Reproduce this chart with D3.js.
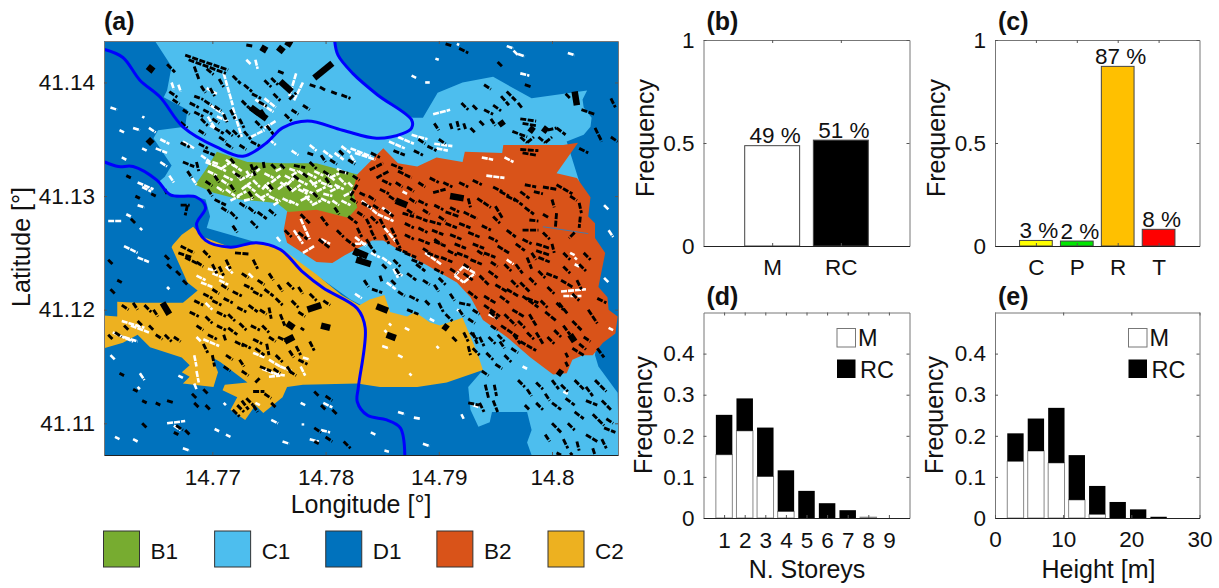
<!DOCTYPE html>
<html>
<head>
<meta charset="utf-8">
<script src="https://cdn.jsdelivr.net/npm/d3@7"></script>
<style>
    body { margin: 0; background: #fff; }
    svg { display: block; }
    text { font-family: "Liberation Sans", Arial, sans-serif; fill: #111; }
</style>
</head>
<body>
<svg id="chart" width="1219" height="588"></svg>
<script>

// Map data: pairs are offsets from 14.76 E / 41.10 N, in units of 0.0001 degree
const lonBase = 14.76, latBase = 41.10;

const zoneB2 = [[228,319],[251,342],[264,329],[281,326],[298,334],[321,330],[323,339],[356,338],[357,345],[391,345],[410,345],[423,347],[404,320],[422,316],[434,299],[432,282],[438,276],[438,263],[447,250],[444,235],[441,220],[449,211],[450,200],[458,194],[456,179],[445,171],[436,160],[427,160],[418,156],[413,144],[401,143],[381,158],[360,176],[339,191],[328,211],[316,224],[290,239],[273,248],[251,261],[241,261],[238,259],[217,248],[206,241],[192,242],[166,259],[163,270],[166,286],[177,305]];
const zoneC1 = [[49,437],[208,437],[211,424],[224,408],[246,389],[268,374],[277,369],[286,369],[299,391],[321,400],[348,405],[382,386],[431,393],[427,385],[428,378],[435,369],[434,361],[428,354],[413,348],[429,297],[442,209],[438,160],[441,150],[458,127],[459,72],[382,72],[378,83],[382,94],[378,110],[347,110],[345,101],[335,97],[328,112],[326,132],[339,147],[222,209],[160,253],[95,272],[98,282],[94,297],[80,301],[63,301],[52,312],[58,317],[64,327],[48,351],[52,358],[76,361],[78,376],[57,387],[60,393],[64,414]];
const zoneB1 = [[104,339],[131,330],[162,329],[192,329],[228,319],[224,305],[228,290],[220,281],[192,288],[167,286],[157,294],[124,297],[101,303],[85,310],[94,323]];
const zoneC2 = [[65,257],[73,266],[83,273],[92,264],[116,255],[139,259],[162,253],[192,231],[214,213],[230,204],[239,209],[252,213],[257,198],[272,194],[279,198],[292,189],[301,186],[321,193],[334,162],[339,147],[307,136],[281,132],[248,132],[228,135],[180,134],[166,132],[162,123],[145,109],[138,116],[129,103],[116,112],[122,123],[109,129],[111,134],[131,136],[107,154],[100,158],[105,145],[101,132],[74,135],[80,141],[73,145],[80,151],[73,158],[45,167],[34,178],[21,171],[4,166],[4,195],[16,194],[16,207],[33,206],[58,206],[74,206],[87,217],[78,224],[64,255]];

const riverNorth = [[5,429],[21,422],[36,402],[54,387],[74,361],[104,343],[127,335],[148,347],[162,360],[184,366],[215,358],[245,351],[268,355],[276,360],[276,367],[246,389],[224,408],[211,424],[208,437]];
const riverSouth = [[5,330],[17,326],[30,326],[51,314],[63,301],[86,299],[94,290],[86,275],[94,261],[116,255],[139,259],[160,253],[180,233],[198,219],[228,201],[235,184],[229,132],[228,119],[237,107],[254,103],[266,96],[270,72]];
const road = [[392,273],[432,267]];

// Large buildings, [lon1, lat1, lon2, lat2]
const largeBuildings = [[190,404,206,417],[43,414,48,410],[143,431,148,428],[158,431,163,427],[165,436,170,433],[134,378,148,368],[160,401,170,392],[262,296,272,292],[310,300,322,298],[354,366,357,362],[380,360,384,357],[392,360,396,357],[420,392,422,380],[225,252,237,247],[227,244,240,240],[56,206,62,196],[184,200,196,204],[196,186,204,184],[166,188,172,184],[164,172,172,176],[254,178,262,175],[245,203,255,199],[304,186,308,183],[416,178,420,172],[405,146,409,143],[43,350,47,346]];

// Small black buildings
const blackBuildings = [
    [76,424,114,411],[79,420,112,408],[60,416,67,409],[84,414,88,403],[62,392,69,387],[65,385,71,381],[95,412,101,407],[106,403,110,396],[118,406,125,399],[128,398,135,392],[135,390,143,386],[141,383,148,379],
    [90,397,94,391],[98,395,102,388],[84,388,92,385],[80,382,88,378],[84,374,92,370],[93,384,99,380],[92,376,100,372],[102,379,108,375],[100,368,106,364],[74,376,80,372],[110,372,113,365],[116,376,120,368],[112,358,118,353],[102,360,110,355],[124,368,128,360],[132,378,140,372],[128,357,134,350],[134,348,142,344],[124,345,130,341],[138,366,144,360],[148,362,155,353],[143,376,147,370],
    [146,402,152,396],[152,404,158,398],[90,368,96,362],[118,358,124,352],[106,352,112,348],[112,346,118,342],[88,358,94,354],[72,365,78,360],[126,384,132,378],[154,390,160,384],[170,376,176,372],[180,380,186,376],[164,372,170,366],
    [168,385,174,391],[186,398,192,396],[195,396,200,393],[205,392,210,390],[214,389,222,386],[130,433,136,432],[158,410,163,408],[172,327,182,325],[186,330,192,324],[196,336,200,330],[204,332,210,328],[184,338,190,336],[212,340,216,336],[220,332,226,328],[224,318,230,314],[198,322,204,318],[212,322,220,320],
    [72,347,80,343],[88,346,96,342],[92,340,102,336],[74,330,84,326],[78,322,82,316],[86,330,88,322],[102,297,112,292],[108,290,114,286],[116,286,122,280],[124,294,130,290],[132,290,138,285],[140,286,148,280],[150,288,156,283],[118,274,122,268],[134,278,140,272],[96,306,100,300],[72,292,80,292],[78,292,76,283],
    [116,333,120,328],[134,328,138,318],[140,326,134,322],[145,330,146,324],[152,328,156,324],[160,328,164,324],[180,320,185,316],[166,309,170,304],[150,310,154,305],[189,303,194,298],[200,316,204,310],[102,318,106,312],[94,313,100,309],[132,304,136,298],[116,310,120,304],[172,318,177,314],[120,320,126,316],
    [239,323,251,329],[245,316,256,322],[222,300,228,310],[250,314,258,310],[248,306,256,302],[256,300,262,296],[264,322,276,316],[230,303,236,300],[238,300,244,296],[232,294,240,290],[242,292,248,288],[222,298,228,294],[295,303,306,306],[326,298,328,290],[334,298,346,290],[350,291,356,281],
    [348,308,356,304],[354,304,362,300],[360,300,368,296],[366,298,374,292],[372,304,380,298],[376,310,386,308],[384,304,392,302],[392,308,404,306],[404,310,418,302],[416,300,422,296],[424,294,426,285],[425,282,424,272],[420,268,415,263],[400,297,402,290],[404,285,403,272],[392,284,397,281],[376,290,384,284],[380,279,388,278],[374,270,388,270],
    [268,285,278,282],[280,282,290,278],[292,278,302,275],[270,276,278,272],[282,272,290,268],[294,270,304,266],[270,266,278,262],[282,262,292,258],[296,260,306,256],[306,276,316,272],[310,266,320,262],[314,258,324,254],[318,276,328,272],[326,268,336,264],[330,258,340,254],[338,274,346,270],[344,264,352,260],[348,282,354,276],[306,286,318,282],[322,286,334,280],[252,288,260,282],[262,254,272,250],[258,272,262,264],[262,262,266,254],[248,280,252,272],[252,266,256,258],[270,250,280,246],[240,270,244,262],[276,244,286,240],[290,250,300,246],[302,246,312,242],[316,250,326,246],[328,244,338,240],[340,250,350,246],[352,256,362,250],[360,270,368,264],[368,258,376,252],
    [262,312,268,308],[272,308,278,304],[282,312,288,308],[292,316,300,312],[304,312,312,308],[318,312,326,308],[330,314,338,310],[282,296,290,292],[296,292,304,288],[310,290,318,286],[274,298,280,294],[240,282,246,276],[228,286,234,282],[236,262,240,256],[260,244,266,238],[286,254,292,250],[300,282,306,278],[272,288,278,284],[286,288,292,284],[296,262,302,258],[308,252,316,248],[322,240,328,236],[334,252,340,248],[346,242,352,238],[358,240,364,234],[354,212,362,206],[364,226,370,220],[380,228,386,222],[388,234,394,228],[396,220,402,214],[382,250,386,244],[374,262,382,258],[392,268,398,262],[410,250,416,244],[428,250,434,244],[410,238,416,232],[424,240,430,234],[404,206,410,200],[396,176,402,170],[402,182,408,176],[378,180,384,174],[364,166,370,162],[370,190,376,184],[390,208,396,202],[352,178,358,172],[346,186,352,182],[330,200,336,196],[310,236,316,232],[300,228,306,222],[296,236,304,232],
    [386,258,398,254],[386,252,398,248],[388,246,398,242],[400,258,402,250],[378,246,382,236],[368,240,374,232],[344,234,352,228],[336,230,344,222],[322,232,330,226],[350,222,360,216],[360,218,370,212],[372,224,380,216],[378,210,388,206],[340,212,350,206],[326,216,334,210],[318,206,328,204],[345,198,352,192],[358,196,368,186],[365,200,375,194],[380,196,386,186],[386,180,392,170],[394,198,404,190],[406,206,414,196],[418,214,424,208],[410,186,416,178],[418,190,426,182],[428,176,434,172],[432,200,440,188],[440,210,448,206],[424,170,430,165],[440,166,446,158],[412,162,414,158],[412,154,414,150],[395,232,405,228],[408,226,418,220],[422,226,426,218],[418,166,428,160],[372,172,386,164],[355,186,370,176],[340,204,354,194],[374,212,388,202],
    [178,284,186,276],[196,282,202,274],[176,268,184,262],[194,262,204,254],[210,270,216,264],[220,282,228,276],[218,262,226,256],[236,280,240,272],[228,272,232,264],[208,290,212,284],[224,250,232,246],[238,258,244,250],[164,270,170,264],
    [234,226,238,220],[241,218,250,215],[248,230,250,224],[258,226,262,222],[264,216,270,212],[274,212,282,208],[288,208,292,204],[286,226,292,222],[296,222,300,216],[272,200,282,196],[300,206,304,198],[306,196,312,190],[310,214,314,208],[318,200,322,194],[326,192,332,188],[262,236,266,230],[250,240,254,236],[280,240,288,234],[272,232,280,226],
    [328,180,334,174],[336,176,340,168],[344,176,350,170],[330,166,336,160],[342,162,348,156],[354,172,358,166],[358,160,364,154],[366,178,372,170],[350,152,356,148],[338,146,344,142],[341,134,344,122],[349,134,351,124],[336,118,340,110],[348,120,352,110],[326,118,336,116],
    [370,138,376,132],[378,130,382,124],[386,136,392,130],[394,126,398,120],[400,138,406,130],[408,134,414,128],[412,122,420,116],[400,118,408,112],[386,118,392,112],[376,116,380,112],[420,138,428,130],[430,132,436,124],[438,138,448,128],[430,120,440,116],[444,120,452,112],[420,110,428,104],[436,108,446,98],[414,100,420,94],[446,96,456,92],[430,90,440,84],[444,86,448,78],[448,104,454,100],[400,100,408,92],[394,90,398,84],[410,86,414,78],[422,84,424,76],[436,78,438,72],[404,74,408,72],[416,74,418,72],
    [355,388,362,380],[360,392,368,384],[348,380,355,375],[370,382,374,377],[340,376,348,372],[330,380,334,376],[320,382,326,376],[372,368,386,366],[374,364,386,362],[365,357,378,352],[372,352,378,347],[378,347,384,352],[388,352,394,347],[394,347,400,352],[396,358,404,360],[404,360,412,354],[372,341,388,340],[374,338,386,336],[424,342,432,338],
    [310,364,312,358],[316,366,318,358],[322,364,324,358],[328,360,332,356],[296,364,300,358],[336,366,340,362],[346,368,350,362],[260,340,270,336],[278,340,286,336],[290,344,298,340],[282,350,288,346],[300,350,306,346],[240,338,248,334],[258,328,268,324],
    [412,390,416,386],[426,376,438,372],[438,360,444,348],[452,352,458,348],[452,386,456,378],[318,430,326,426],[306,434,312,432],[352,418,356,414],[340,398,346,394],[376,398,382,396],
    [72,256,84,250],[70,250,82,246],[76,246,88,240],[92,252,98,246],[58,248,62,244],[60,240,64,236],[68,234,72,230],[74,226,78,222],[86,242,92,238],[100,240,104,232],[106,238,110,230],[112,244,116,236],[120,250,132,249],[136,244,140,236],[150,232,154,226],[166,224,172,218],[176,220,180,214],[186,214,192,208],[198,208,204,204],[178,184,181,182],[110,178,112,172],
    [80,198,88,194],[84,208,92,204],[92,214,100,210],[100,208,108,204],[110,210,118,206],[118,216,126,212],[128,222,136,218],[136,216,144,212],[146,218,154,212],[156,210,162,204],[94,194,100,188],[104,198,112,194],[114,196,120,190],[122,202,130,198],[132,204,140,198],[142,200,148,196],[150,202,152,192],[160,196,164,186],[104,186,112,182],[114,184,122,178],[124,188,130,182],[134,186,142,182],[144,186,150,180],[136,174,144,170],[138,166,146,160],[148,170,150,160],[120,172,128,168],[124,156,128,150],[112,160,118,156],[100,160,102,150],[92,170,96,162],[142,150,152,146],[156,160,162,154],[168,164,172,158],[174,168,178,160],[154,148,160,144],[168,146,174,142],[176,156,184,152],[186,172,190,164],
    [100,218,106,214],[108,222,114,218],[126,232,132,228],[140,226,146,222],[158,222,162,216],[170,208,176,202],[176,198,182,194],[86,186,92,182],[96,178,104,174],[126,170,134,166],[110,150,116,146],[126,146,132,142],[138,136,142,140],[158,176,166,172],[150,176,156,172],[166,150,170,144],
    [20,204,26,200],[30,206,34,200],[40,204,46,198],[48,200,52,194],[22,186,26,182],[34,190,38,186],[44,186,48,182],[8,178,12,174],[14,180,20,176],[50,178,56,174],[58,178,64,172],[66,176,72,172],
    [118,112,124,106],[122,116,128,110],[126,120,132,112],[130,122,136,116],[136,128,146,128],[146,126,152,122],[152,118,156,114],[136,116,140,110],
    [30,130,34,128],[38,120,42,118],[50,118,54,116],[60,120,66,118],[82,126,86,122],[92,130,96,126],[84,118,88,114],[94,116,98,112],[68,98,74,94],[76,94,80,90],[66,92,70,90],[190,128,194,124],[200,124,206,120],[196,116,200,112],[206,112,210,108],[190,96,196,92],[200,88,206,84],[190,84,194,82],[216,84,222,78],[18,144,22,142],[8,244,12,240],[10,218,14,214],[16,226,20,224],[38,100,42,96],[24,318,28,316],[28,280,32,276],[46,302,50,300],[58,306,60,302],[32,300,36,298],
    [322,180,326,172],[326,168,328,160],[330,180,334,170],[312,176,316,172]
];

// Small white buildings
const whiteBuildings = [
    [104,326,112,322],[110,318,118,314],[100,330,106,328],[112,332,120,326],[118,322,124,316],[124,314,132,318],[126,306,134,312],[112,306,120,300],[122,300,130,304],[136,314,142,308],[146,320,154,316],[152,312,160,318],[158,306,166,312],[164,318,172,314],[170,304,178,310],[176,314,184,310],[184,320,192,316],[188,310,196,314],[192,304,200,308],[200,320,208,314],[204,304,212,308],[212,316,218,310],[216,300,224,304],[178,296,186,300],[188,292,196,296],[196,298,204,294],[206,296,212,292],[150,300,158,296],[142,298,150,302],[162,298,170,294],[138,302,146,296],[176,322,182,318],[168,324,174,322],[210,324,218,320],[220,312,224,308],[96,322,104,318],[104,308,110,304],[130,322,134,316],[160,312,170,306],[180,306,190,302],[196,312,206,308],
    [108,324,116,330],[118,328,126,322],[130,310,138,304],[134,318,142,324],[146,310,152,304],[156,322,164,326],[170,318,176,322],[182,300,188,294],[190,322,198,318],[198,302,206,300],[208,310,216,306],[214,296,222,292],[176,306,184,302],[168,296,176,292],[154,292,160,296],[128,296,136,298],[116,296,124,300],[108,314,114,310],[144,306,150,312],[166,310,172,316],[186,314,192,308],[204,316,212,320],
    [110,408,118,380],[118,378,126,352],[95,395,104,390],[98,380,110,372],[104,370,114,366],[96,370,102,360],[138,385,154,374],[146,386,156,378],[134,352,146,358],[146,360,156,366],[174,408,168,388],[180,400,172,384],[138,420,140,412],[98,362,106,358],[130,420,134,416],[150,350,156,345],
    [54,350,62,346],[50,342,60,338],[74,348,84,342],[90,336,98,330],[94,330,104,326],[62,318,66,312],[82,316,86,310],[64,400,66,394],[70,398,72,392],
    [256,348,270,342],[264,352,278,346],[276,354,290,350],[298,342,308,340],[296,346,312,344],[295,372,310,376],[198,340,206,334],[208,338,216,332],[214,344,222,338],[222,336,226,330],[170,340,176,336],[186,345,192,340],[222,342,240,335],[226,338,244,332],
    [10,378,16,376],[38,370,40,369],[30,360,36,358],[44,360,50,356],[18,358,22,356],[20,334,24,332],[38,342,42,340],[54,330,60,326],[34,312,48,306],[38,308,46,304],[34,292,40,290],[8,278,20,278],[24,284,28,282],[36,272,38,270],
    [276,406,280,404],[288,400,292,400],[297,421,300,420],[316,434,318,433],[360,432,366,430],[366,428,370,424],[370,425,376,423],[372,408,380,406],[414,426,420,424],[446,292,450,288],[450,270,454,264],
    [22,256,34,250],[34,246,44,242],[60,220,62,218],[10,160,14,156],[36,144,40,138],[70,142,74,140],[34,132,36,130],[60,100,76,102],[66,98,72,94],[30,86,34,84],[14,88,18,86],[74,78,80,76],[102,95,106,93],[112,90,116,88],[152,103,158,100],[162,84,168,82],[178,118,182,116],[180,100,180,98],[198,118,206,114],[186,86,194,84],[196,94,204,92],[138,118,142,116],[110,118,112,116],
    [86,230,94,226],[90,224,100,220],[100,232,110,228],[106,226,114,222],[96,236,104,234],[112,238,118,232],[132,232,136,228],[94,206,100,200],[20,190,40,184],[28,186,44,180],[12,180,30,172],[22,176,34,172],[92,174,106,168],[84,160,86,150],[86,146,88,136],[84,135,86,130],[86,176,90,172],[136,162,146,158],[144,148,154,144],[154,144,164,142],[150,156,160,150],[160,150,170,146],[150,141,160,142],[178,150,182,142],[180,158,186,156],
    [250,168,256,166],[264,160,268,158],[270,184,274,182],[256,188,258,186],[252,182,254,180],[274,144,276,142],[298,168,300,166],[292,192,296,190],
    [314,230,322,238],[322,238,332,232],[322,224,332,232],[314,230,322,224],[288,250,302,240],[226,258,236,258],[408,216,430,218],[410,212,426,212],[416,250,420,248],[420,240,424,238],[344,196,352,192],[360,244,366,240],
    [232,296,246,284],[246,284,260,278],[250,290,258,284],[252,272,262,260],[226,264,236,256],[268,304,272,302],[338,334,348,332],[358,334,366,330],[342,318,358,316],[178,280,186,262],[172,270,180,258],[180,250,190,256],[196,262,204,258],[157,264,160,260],
    [250,246,258,240],[260,236,264,228],[254,224,262,218],[264,232,268,230],[316,200,320,198],[226,214,232,210],[240,250,248,246],[374,150,378,148],[410,128,414,126],[450,184,454,182],[446,228,450,224],[420,246,422,244],
    [264,110,270,108],[240,92,244,90],[320,108,322,104],[286,82,292,80],[252,76,256,75],[278,105,284,104],[330,116,336,114]
];

// Panel (a) axes and legend
const lonTicks = [14.77, 14.78, 14.79, 14.8];
const latTicks = [41.11, 41.12, 41.13, 41.14];
const zoneNames = ["B1", "C1", "D1", "B2", "C2"];
const zoneColors = ["#77AC30", "#4DBEEE", "#0072BD", "#D95319", "#EDB120"];

// Panel (b)
const materials = ["M", "RC"];
const materialFreq = [0.487, 0.514];
const materialLabels = ["49 %", "51 %"];
const materialColors = ["#ffffff", "#000000"];

// Panel (c)
const roofTypes = ["C", "P", "R", "T"];
const roofFreq = [0.027, 0.024, 0.872, 0.081];
const roofLabels = ["3 %", "2 %", "87 %", "8 %"];
const roofColors = ["#FFFF00", "#00E600", "#FFC000", "#FF0000"];

// Panel (d)
const storeys = [1, 2, 3, 4, 5, 6, 7, 8, 9];
const storeysM = [0.154, 0.212, 0.101, 0.016, 0, 0, 0, 0.002, 0];
const storeysRC = [0.097, 0.079, 0.119, 0.100, 0.066, 0.036, 0.019, 0, 0];

// Panel (e)
const heights = [3, 6, 9, 12, 15, 18, 21, 24];
const heightsM = [0.138, 0.163, 0.134, 0.044, 0.009, 0, 0, 0];
const heightsRC = [0.068, 0.079, 0.134, 0.109, 0.069, 0.039, 0.021, 0.003];

const svg = d3.select("#chart");
const tickFont = 22.5, labelFont = 25, titleFont = 25, keyFont = 23.5;

function addText(x, y, str, size, anchor = "start", weight = "normal", rotate = false) {
    return svg.append("text")
        .attr("transform", rotate ? `translate(${x},${y}) rotate(-90)` : `translate(${x},${y})`)
        .attr("text-anchor", anchor)
        .attr("font-size", size)
        .attr("font-weight", weight)
        .text(str);
}

/** Draw a boxed axes frame with inward ticks on all four sides */
function drawFrame(x, y, xTicks, yTicks, xPad, yPad, xFormat = String) {
    const [x0, x1] = x.range(), [y1, y0] = y.range();
    const axes = [
        [d3.axisTop(x).tickValues(xTicks).tickFormat(""), 0, y0, "#777"],
        [d3.axisRight(y).tickValues(yTicks).tickFormat(""), x1, 0, "#777"],
        [d3.axisLeft(y).tickValues(yTicks).tickFormat(String).tickPadding(yPad), x0, 0, "#777"],
        [d3.axisBottom(x).tickValues(xTicks).tickFormat(xFormat).tickPadding(xPad), 0, y1, "#222"]
    ];
    axes.forEach(([axis, tx, ty, color]) => {
        const g = svg.append("g").attr("transform", `translate(${tx},${ty})`)
            .call(axis.tickSizeInner(-3).tickSizeOuter(0));
        g.selectAll("text").attr("font-size", tickFont);
        g.select(".domain").attr("stroke", color);
        g.selectAll("line").attr("stroke", "#555");
    });
}

/* ---- Panel (a): zone map ---- */
const lonScale = d3.scaleLinear().domain([14.76043, 14.80583]).range([104, 618]);
const latScale = d3.scaleLinear().domain([41.10721, 41.14365]).range([455, 41]);
const mapX = u => lonScale(lonBase + u / 1e4);
const mapY = v => latScale(latBase + v / 1e4);

svg.append("clipPath").attr("id", "mapClip").append("rect")
    .attr("x", 104).attr("y", 41).attr("width", 514).attr("height", 414);

const map = svg.append("g").attr("clip-path", "url(#mapClip)");
map.append("rect").attr("x", 104).attr("y", 41).attr("width", 514).attr("height", 414)
    .attr("fill", zoneColors[2]);

const zonePath = d3.line().x(d => mapX(d[0])).y(d => mapY(d[1]));
[[zoneC1, 1], [zoneB2, 3], [zoneC2, 4], [zoneB1, 0]].forEach(([zone, c]) => {
    map.append("path").attr("d", zonePath(zone) + "Z").attr("fill", zoneColors[c]);
});

map.append("path").attr("d", zonePath(road)).attr("fill", "none")
    .attr("stroke", "#4a78a8").attr("stroke-width", 1);

function drawBuildings(list, color, width, dash) {
    map.append("g").selectAll("line").data(list).join("line")
        .attr("x1", d => mapX(d[0])).attr("y1", d => mapY(d[1]))
        .attr("x2", d => mapX(d[2])).attr("y2", d => mapY(d[3]))
        .attr("stroke", color).attr("stroke-width", width)
        .attr("stroke-dasharray", dash);
}
drawBuildings(whiteBuildings, "#ffffff", 2.6, "6 1");
drawBuildings(blackBuildings, "#000000", 2.9, "6 1.5");
drawBuildings(largeBuildings, "#000000", 6.5, null);

const riverPath = d3.line().x(d => mapX(d[0])).y(d => mapY(d[1])).curve(d3.curveCatmullRom);
[riverNorth, riverSouth].forEach(river => {
    map.append("path").attr("d", riverPath(river)).attr("fill", "none")
        .attr("stroke", "#0000FF").attr("stroke-width", 3);
});

drawFrame(lonScale, latScale, lonTicks, latTicks, 14.5, 9);
addText(361, 513, "Longitude [°]", labelFont, "middle");
addText(30, 247, "Latitude [°]", labelFont, "middle", "normal", true);
addText(104, 30, "(a)", titleFont, "start", "bold");

const legendX = d3.scalePoint().domain(zoneNames).range([103.5, 548]);
zoneNames.forEach((name, i) => {
    svg.append("rect").attr("x", legendX(name)).attr("y", 531).attr("width", 36).attr("height", 36)
        .attr("fill", zoneColors[i]).attr("stroke", "#333");
    addText(legendX(name) + 47, 559, name, tickFont);
});

/* ---- Panels (b), (c): single bars ---- */
function drawCategoryPanel(cfg) {
    const x = d3.scaleLinear().domain([0, cfg.names.length + 1]).range(cfg.xRange);
    const y = d3.scaleLinear().domain([0, 1]).range([246, 40]);
    const barWidth = x(0.8) - x(0);
    svg.append("g").selectAll("rect").data(cfg.values).join("rect")
        .attr("x", (d, i) => x(i + 1) - barWidth / 2)
        .attr("y", d => y(d))
        .attr("width", barWidth)
        .attr("height", d => y(0) - y(d))
        .attr("fill", (d, i) => cfg.colors[i])
        .attr("stroke", "#444");
    drawFrame(x, y, cfg.names.map((d, i) => i + 1), [0, 0.5, 1], 13, 9, d => cfg.names[d - 1]);
    cfg.labels.forEach((label, i) => {
        addText(x(i + 1) + 3, y(cfg.values[i]) - 2.5, label, tickFont, "middle");
    });
    addText(cfg.xRange[0] - 50, 138, "Frequency", labelFont, "middle", "normal", true);
    addText(cfg.xRange[0] + 3, 30, cfg.title, titleFont, "start", "bold");
}

drawCategoryPanel({
    title: "(b)", xRange: [703.5, 909.5],
    names: materials, values: materialFreq, labels: materialLabels, colors: materialColors
});
drawCategoryPanel({
    title: "(c)", xRange: [995, 1199.5],
    names: roofTypes, values: roofFreq, labels: roofLabels, colors: roofColors
});

/* ---- Panels (d), (e): stacked histograms ---- */
function drawStackPanel(cfg) {
    const x = d3.scaleLinear().domain(cfg.xDomain).range(cfg.xRange);
    const y = d3.scaleLinear().domain([0, 0.5]).range([518, 312.5]);
    const barWidth = x(cfg.barWidth) - x(0);
    const groups = svg.append("g");
    groups.selectAll(".m").data(cfg.bins).join("rect").attr("class", "m")
        .attr("x", d => x(d) - barWidth / 2)
        .attr("y", (d, i) => y(cfg.m[i]))
        .attr("width", barWidth)
        .attr("height", (d, i) => y(0) - y(cfg.m[i]))
        .attr("fill", "#fff").attr("stroke", "#888");
    groups.selectAll(".rc").data(cfg.bins).join("rect").attr("class", "rc")
        .attr("x", d => x(d) - barWidth / 2)
        .attr("y", (d, i) => y(cfg.m[i] + cfg.rc[i]))
        .attr("width", barWidth)
        .attr("height", (d, i) => y(0) - y(cfg.rc[i]))
        .attr("fill", "#000");
    drawFrame(x, y, cfg.xTicks, [0, 0.1, 0.2, 0.3, 0.4], cfg.xPad, 9);

    const lx = cfg.xRange[0] + 133.5;
    svg.append("rect").attr("x", lx).attr("y", 328.5).attr("width", 18.5).attr("height", 18.5)
        .attr("fill", "#fff").attr("stroke", "#777");
    svg.append("rect").attr("x", lx).attr("y", 359.5).attr("width", 18.5).attr("height", 18.5)
        .attr("fill", "#000");
    addText(lx + 21, 346, "M", keyFont);
    addText(lx + 23, 378, "RC", keyFont);

    addText(cfg.xRange[0] + 103.5, 578, cfg.xLabel, labelFont, "middle");
    addText(cfg.xRange[0] - 52, 415, "Frequency", labelFont, "middle", "normal", true);
    addText(cfg.xRange[0] + 3, 305, cfg.title, titleFont, "start", "bold");
}

drawStackPanel({
    title: "(d)", xLabel: "N. Storeys", xRange: [703.5, 909.5], xDomain: [0, 10], barWidth: 0.8,
    bins: storeys, m: storeysM, rc: storeysRC, xTicks: storeys, xPad: 14
});
drawStackPanel({
    title: "(e)", xLabel: "Height [m]", xRange: [995, 1199.5], xDomain: [0, 30], barWidth: 2.4,
    bins: heights, m: heightsM, rc: heightsRC, xTicks: [0, 10, 20, 30], xPad: 13
});

</script>
</body>
</html>
